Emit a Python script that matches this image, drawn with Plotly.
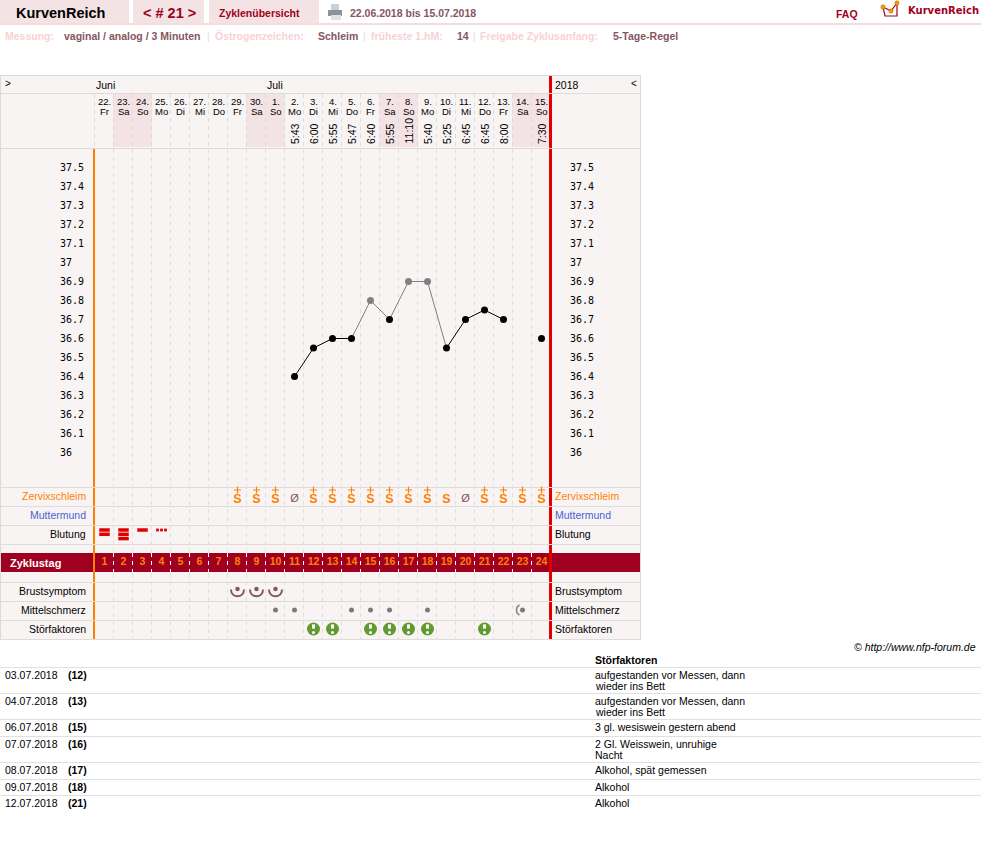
import plotly.graph_objects as go

# ---------- data ----------
date_nums = [22,23,24,25,26,27,28,29,30,1,2,3,4,5,6,7,8,9,10,11,12,13,14,15]
weekdays = ["Fr","Sa","So","Mo","Di","Mi","Do","Fr","Sa","So","Mo","Di","Mi","Do","Fr","Sa","So","Mo","Di","Mi","Do","Fr","Sa","So"]
times = [None]*10 + ["5:43","6:00","5:55","5:47","6:40","5:55","11:10","5:40","5:25","6:45","6:45","8:00",None,"7:30"]
temps = [None]*10 + [36.4,36.55,36.6,36.6,36.8,36.7,36.9,36.9,36.55,36.7,36.75,36.7,None,36.6]
excluded_days = [15,17,18]  # cycle days drawn in grey
disturb_days = [12,13,15,16,17,18,21]
temp_ticks = [37.5,37.4,37.3,37.2,37.1,37,36.9,36.8,36.7,36.6,36.5,36.4,36.3,36.2,36.1,36]
mucus_plus_days = [8,9,10,12,13,14,15,16,17,18,21,22,23,24]
mucus_plain_days = [19]
mucus_none_days = [11,20]
bleed_days = [1,2,3]
bleed_bars = [2,3,1]
spot_days = [4]
breast_days = [8,9,10]
pain_days = [10,11,14,15,16,18,23]
pain_arc_days = [23]
cycle_days = list(range(1,25))
table_rows = [
    ("03.07.2018","(12)",["aufgestanden vor Messen, dann","wieder ins Bett"]),
    ("04.07.2018","(13)",["aufgestanden vor Messen, dann","wieder ins Bett"]),
    ("06.07.2018","(15)",["3 gl. wesiswein gestern abend"]),
    ("07.07.2018","(16)",["2 Gl. Weisswein, unruhige","Nacht"]),
    ("08.07.2018","(17)",["Alkohol, spät gemessen"]),
    ("09.07.2018","(18)",["Alkohol"]),
    ("12.07.2018","(21)",["Alkohol"]),
]

# ---------- style / layout constants ----------
W, H = 981, 861
COL = 19; X0 = 104.5
PX01 = 19; Y375 = 167.5        # pixels per 0.1 deg, pixel of 37.5
FONT = "Liberation Sans"
PANEL = "#f9f4f4"; GRID = "#dcd8d8"; PINK = "#f4e3e5"; MAROON = "#a00020"
ORANGE = "#ff8000"; RED = "#e00000"; LABEL = "#f8d2d6"; VAL = "#85565f"
ROW_HEIGHTS = [26,26,17,26,17,16,16]

def dpx(d):            # cycle day -> pixel
    return X0 + COL*(d-1)

fig = go.Figure()
shapes, ann = [], []

def rect(x0,y0,x1,y1,c):
    shapes.append(dict(type="rect",xref="x2",yref="y2",x0=x0,x1=x1,y0=y0,y1=y1,fillcolor=c,line_width=0,layer="below"))
def line(x0,y0,x1,y1,c,w=1,dash=None):
    shapes.append(dict(type="line",xref="x2",yref="y2",x0=x0,x1=x1,y0=y0,y1=y1,layer="below",
                       line=dict(color=c,width=w,dash=dash or "solid")))
def text(x,y,s,size=10,color="#000",bold=False,anchor="left",fam=FONT,ital=False,angle=0,ya="middle",yref="y2"):
    if bold: s=f"<b>{s}</b>"
    if ital: s=f"<i>{s}</i>"
    if anchor=="left": x-=1
    ann.append(dict(xref="x2",yref=yref,x=x,y=y,text=s,showarrow=False,xanchor=anchor,yanchor=ya,
                    textangle=angle,borderpad=0,font=dict(size=size,color=color,family=fam)))

# --- top bars
rect(0,0,129,23,PINK); rect(133,0,204,23,PINK); rect(209,0,319,23,PINK)
rect(0,23,W,25,"#f4dcdf")
text(16,13,"KurvenReich",14.5,"#000",True)
text(143,13,"&lt; # 21 &gt;",14.5,MAROON,True)
text(219,12.5,"Zyklenübersicht",10.5,MAROON,True)
text(350,12.5,"22.06.2018 bis 15.07.2018",10.5,VAL,True)
text(836,14,"FAQ",10.5,MAROON,True)
text(908,10.5,"KurvenReich",10,MAROON,True,fam="DejaVu Sans")
# printer icon
rect(331,4,339,10,"#c8d0d8"); rect(328,10,342,16,"#8c9498"); rect(331,15,341,20,"#dfe3e6")
# logo
shapes.append(dict(type="path",xref="x2",yref="y2",layer="below",path="M 883 7 L 885 16 L 897 16 L 897 3 L 891 11 Z",
                   line=dict(color=MAROON,width=1.2),fillcolor="rgba(0,0,0,0)"))
for cx,cy in ((883,7),(897,3),(891,11)):
    shapes.append(dict(type="circle",xref="x2",yref="y2",layer="above",x0=cx-2.2,x1=cx+2.2,y0=cy-2.2,y1=cy+2.2,
                       fillcolor="#f59a00",line=dict(color="#d06000",width=0.5)))
# second line
text(5,36,"Messung:",10.5,LABEL,True)
text(64,36,"vaginal / analog / 3 Minuten",10.5,VAL,True)
text(207,36,"|",10.5,LABEL)
text(215,36,"Östrogenzeichen:",10.5,LABEL,True)
text(318,36,"Schleim",10.5,VAL,True)
text(363,36,"|",10.5,LABEL)
text(371,36,"früheste 1.hM:",10.5,LABEL,True)
text(457,36,"14",10.5,VAL,True)
text(473,36,"|",10.5,LABEL)
text(480,36,"Freigabe Zyklusanfang:",10.5,LABEL,True)
text(613,36,"5-Tage-Regel",10.5,VAL,True)

# --- panel
rect(0,75,640,640,PANEL)
for start in (2,9,16,23):
    rect(dpx(start)-10.5,94,dpx(start+1)+9.5,147,PINK)
# vertical dashes
for d in range(1,25):
    x = dpx(d)-10
    line(x,94,x,148,"#dcdcdc",1,"4px,4px")
    line(x,149,x,639,"#e2dede",1,"4px,4px")
# temp grid
for t in temp_ticks:
    shapes.append(dict(type="line",xref="x2",yref="y",x0=85,x1=570,y0=t,y1=t,layer="below",line=dict(color=GRID,width=1)))
# cycle band
rect(0,553,640,572,MAROON)
for d in range(2,25):
    x = dpx(d)-10
    line(x,553,x,572,"#ffffff",1,"4px,4px")
# vertical markers
line(94,148,94,639,ORANGE,2)
line(550.5,75,550.5,639,RED,3)
# row lines
for y in (487.5,506.5,525.5,544.5,582.5,601.5,620.5,639.5):
    line(0,y,640,y,"#e0dcdc",1)
for y in (75.5,93.5,148.5):
    line(0,y,640,y,"#dedada",1)
line(0.5,75,0.5,640,"#dedada",1); line(640.5,75,640.5,640,"#dedada",1)

# header text
text(5,83,"&gt;",10); text(631,83,"&lt;",10)
text(96,85,"Juni",10.5); text(267,85,"Juli",10.5); text(555,85,"2018",10.5)
for i,(n,w) in enumerate(zip(date_nums,weekdays)):
    x = dpx(i+1)
    text(x,101.5,f"{n}.",9.5,anchor="center"); text(x,111,w,9.5,anchor="center")
    if times[i]:
        text(x,145,times[i],10.5,angle=-90,anchor="center",ya="bottom")

# row labels
for y,s,c in ((496,"Zervixschleim",ORANGE),(515,"Muttermund","#4a62d0"),(534,"Blutung","#000"),
              (591,"Brustsymptom","#000"),(610,"Mittelschmerz","#000"),(629,"Störfaktoren","#000")):
    text(86.5,y,s,10.5,c,anchor="right"); text(555,y,s,10.5,c)
text(10,563,"Zyklustag",11,"#fff",True)

# breast symptom arcs, pain arcs
for d in breast_days:
    x = dpx(d)
    shapes.append(dict(type="path",xref="x2",yref="y2",layer="above",
        path=f"M {x-6.5} 589.5 C {x-6.5} 598.5, {x+6.5} 598.5, {x+6.5} 589.5",line=dict(color=VAL,width=2)))
for d in pain_arc_days:
    x = dpx(d)-4.5
    shapes.append(dict(type="path",xref="x2",yref="y2",layer="above",
        path=f"M {x+1.5} 605 C {x-2.5} 607, {x-2.5} 613, {x+1.5} 615",line=dict(color="#8a8a8a",width=1.6)))

# --- temperature traces
def seg_trace(pred,color):
    xs,ys=[],[]
    for i in range(len(temps)-1):
        a,b=temps[i],temps[i+1]
        if a is None or b is None: continue
        if pred(i+1,i+2):
            xs+=[i+1,i+2,None]; ys+=[a,b,None]
    fig.add_trace(go.Scatter(x=xs,y=ys,mode="lines",line=dict(color=color,width=1),hoverinfo="skip",xaxis="x",yaxis="y"))
def is_grey(a,b): return a in excluded_days or b in excluded_days
seg_trace(is_grey,"#808080")
seg_trace(lambda a,b: not is_grey(a,b),"#000000")
bx=[i+1 for i,t in enumerate(temps) if t is not None and i+1 not in excluded_days]
by=[temps[d-1] for d in bx]
gx=[i+1 for i,t in enumerate(temps) if t is not None and i+1 in excluded_days]
gy=[temps[d-1] for d in gx]
fig.add_trace(go.Scatter(x=bx,y=by,mode="markers",marker=dict(color="#000",size=7),xaxis="x",yaxis="y"))
fig.add_trace(go.Scatter(x=gx,y=gy,mode="markers",marker=dict(color="#808080",size=7),xaxis="x",yaxis="y"))

# temp tick labels
for px in (60,570):
    for t in temp_ticks:
        text(px,t,str(t),10,fam="DejaVu Sans Mono",yref="y")

# helper for row traces in (day, pixel row) space
def row_trace(days,y,**kw):
    fig.add_trace(go.Scatter(x=days,y=[y]*len(days),xaxis="x",yaxis="y2",**kw))

# mucus
mucus_s = mucus_plus_days+mucus_plain_days
row_trace(mucus_s,499.5,mode="text",text=["S"]*len(mucus_s),textposition="middle center",
          textfont=dict(size=12.5,family=FONT,color=ORANGE,weight="bold"))
row_trace(mucus_plus_days,490,mode="markers",marker=dict(symbol="cross-thin",size=5,line=dict(color=ORANGE,width=1.2)))
row_trace(mucus_none_days,499.5,mode="text",text=["Ø"]*len(mucus_none_days),textposition="middle center",
          textfont=dict(size=11,family=FONT,color=VAL))

# bleeding
for d,n in zip(bleed_days,bleed_bars):
    for k in range(n):
        row_trace([d],530+4.3*k,mode="markers",marker=dict(symbol="line-ew",size=7.5,line=dict(color=RED,width=3.5)))
for d in spot_days:
    for off in (-4,0,4):
        row_trace([d+off/COL],530,mode="markers",marker=dict(symbol="square",size=2.8,color=RED))

# cycle-day numbers
row_trace(cycle_days,562.5,mode="text",text=[str(d) for d in cycle_days],textposition="middle center",
          textfont=dict(size=10.5,family=FONT,color=ORANGE,weight="bold"))

# breast dots, pain, disturbances
row_trace(breast_days,589,mode="markers",marker=dict(color=VAL,size=4.5))
row_trace(pain_days,610,mode="markers",marker=dict(color="#7a7a7a",size=5))
row_trace(disturb_days,629,mode="markers",marker=dict(color="#629a32",size=13))
row_trace(disturb_days,626.5,mode="markers",marker=dict(symbol="line-ns",size=3,line=dict(color="#ffffff",width=3)))
row_trace(disturb_days,632.5,mode="markers",marker=dict(color="#ffffff",size=3))

# --- table
text(977,647,"© http://www.nfp-forum.de",10.5,"#000",anchor="right",ital=True)
text(595,660,"Störfaktoren",10.5,"#000",True)
y = 667.5
for (date,cd,notes),h in zip(table_rows,ROW_HEIGHTS):
    line(0,y,W,y,"#e0e0e0",1)
    text(5,y+7,date,10.5); text(68,y+7,cd,10.5,bold=True)
    for k,n in enumerate(notes):
        text(595,y+7+k*11.5,n,10.5)
    y += h

fig.update_layout(
    width=W,height=H,margin=dict(l=0,r=0,t=0,b=0),autosize=False,
    paper_bgcolor="#fff",plot_bgcolor="#fff",showlegend=False,hovermode=False,
    shapes=shapes,annotations=ann,
    font=dict(family=FONT),
    xaxis=dict(visible=False,range=[1-X0/COL,1+(W-X0)/COL],domain=[0,1],fixedrange=True),
    yaxis=dict(visible=False,range=[37.5-(H-Y375)/(10*PX01),37.5+Y375/(10*PX01)],domain=[0,1],fixedrange=True),
    xaxis2=dict(visible=False,range=[0,W],overlaying="x",fixedrange=True),
    yaxis2=dict(visible=False,range=[H,0],overlaying="y",fixedrange=True),
)
fig.write_html("out.html",config=dict(displayModeBar=False),
    post_script="document.body.style.margin='0';document.body.style.overflow='hidden';")
